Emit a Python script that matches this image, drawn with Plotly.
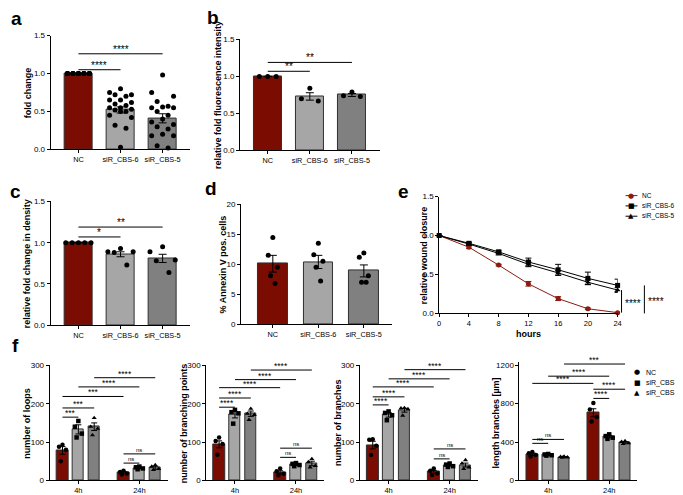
import plotly.graph_objects as go

FONT = "Liberation Sans, Arial, sans-serif"
W, H = 683, 495

groups = ["NC", "siR_CBS-6", "siR_CBS-5"]
bar_colors = ["#7a0c02", "#a6a6a6", "#808080"]

# a  fold change
a_mean = [1.0, 0.52, 0.41]
a_sem = [0.0, 0.04, 0.06]
a_pts = [
    [1.0] * 20,
    [0.80, 0.75, 0.72, 0.72, 0.70, 0.65, 0.65, 0.62, 0.60, 0.58, 0.55,
     0.55, 0.53, 0.52, 0.50, 0.50, 0.45, 0.42, 0.32, 0.28, 0.03],
    [0.98, 0.75, 0.70, 0.63, 0.57, 0.56, 0.55, 0.55, 0.50, 0.45, 0.40,
     0.36, 0.33, 0.30, 0.27, 0.20, 0.18, 0.18, 0.05, 0.02],
]
a_sig = [("****", 0, 1, 1.05), ("****", 0, 2, 1.26)]

# b  relative fold fluorescence intensity
b_mean = [1.0, 0.73, 0.75]
b_sem = [0.0, 0.05, 0.02]
b_pts = [[1.0, 1.0, 1.0], [0.84, 0.70, 0.67], [0.79, 0.74, 0.73]]
b_sig = [("**", 0, 1, 1.07), ("**", 0, 2, 1.19)]

# c  relative fold change in density
c_mean = [1.0, 0.86, 0.81]
c_sem = [0.0, 0.03, 0.05]
c_pts = [[1.0] * 5, [0.93, 0.89, 0.89, 0.88, 0.73], [0.95, 0.89, 0.79, 0.78, 0.64]]
c_sig = [("*", 0, 1, 1.07), ("**", 0, 2, 1.19)]

# d  % Annexin V pos. cells
d_mean = [10.1, 10.4, 8.9]
d_sem = [1.4, 1.1, 1.0]
d_pts = [[14.5, 11.5, 9.5, 8.1, 6.8], [13.5, 11.6, 10.5, 9.5, 7.2], [11.9, 11.2, 8.1, 7.0, 7.0]]

# e  wound closure
hours = [0, 4, 8, 12, 16, 20, 24]
e_nc = [1.0, 0.85, 0.62, 0.38, 0.19, 0.06, 0.01]
e_nc_err = [0.0, 0.015, 0.01, 0.03, 0.025, 0.01, 0.005]
e_cbs6 = [1.0, 0.90, 0.79, 0.66, 0.56, 0.45, 0.36]
e_cbs6_err = [0.0, 0.015, 0.02, 0.05, 0.07, 0.08, 0.08]
e_cbs5 = [1.0, 0.89, 0.77, 0.63, 0.52, 0.40, 0.30]
e_cbs5_err = [0.0, 0.015, 0.02, 0.03, 0.03, 0.03, 0.03]
e_sig = [("****", 0.01, 0.30), ("****", 0.0, 0.36)]

# f  tube formation, [4h, 24h] x [NC, siR_CBS-6, siR_CBS-5]
times = ["4h", "24h"]
loops_mean = [[78, 133, 140], [20, 32, 33]]
loops_sem = [[10, 12, 10], [3, 2, 4]]
loops_pts = [[[93, 88, 80, 50], [155, 140, 122, 112], [163, 140, 135, 118]],
             [[25, 22, 18, 15], [36, 34, 31, 29], [40, 36, 30, 27]]]
loops_sig = [("***", (0, 0), (0, 1), 165), ("***", (0, 0), (0, 2), 189),
             ("***", (0, 0), (1, 0), 219), ("****", (0, 1), (1, 1), 244),
             ("****", (0, 2), (1, 2), 268), ("ns", (1, 0), (1, 1), 45),
             ("ns", (1, 0), (1, 2), 69)]

bp_mean = [[94, 171, 174], [21, 41, 44]]
bp_sem = [[9, 8, 7], [4, 2, 6]]
bp_pts = [[[112, 103, 95, 67], [184, 178, 175, 148], [187, 174, 171, 158]],
          [[31, 24, 17, 13], [45, 43, 40, 37], [56, 48, 38, 34]]]
bp_sig = [("****", (0, 0), (0, 1), 191), ("****", (0, 0), (0, 2), 215),
          ("****", (0, 0), (1, 0), 242), ("****", (0, 1), (1, 1), 263),
          ("****", (0, 2), (1, 2), 288), ("ns", (1, 0), (1, 1), 60),
          ("ns", (1, 0), (1, 2), 84)]

br_mean = [[92, 171, 183], [22, 39, 40]]
br_sem = [[10, 6, 5], [4, 2, 5]]
br_pts = [[[107, 106, 90, 66], [180, 176, 170, 157], [189, 188, 186, 169]],
          [[31, 25, 18, 14], [44, 41, 37, 35], [53, 44, 34, 30]]]
br_sig = [("****", (0, 0), (0, 1), 197), ("****", (0, 0), (0, 2), 218),
          ("****", (0, 0), (1, 0), 244), ("****", (0, 1), (1, 1), 265),
          ("****", (0, 2), (1, 2), 289), ("ns", (1, 0), (1, 1), 56),
          ("ns", (1, 0), (1, 2), 82)]

len_mean = [[273, 267, 243], [705, 455, 395]]
len_sem = [[12, 4, 3], [42, 12, 8]]
len_pts = [[[295, 282, 265, 250], [275, 270, 262, 258], [250, 245, 240, 238]],
           [[808, 738, 660, 615], [480, 462, 445, 433], [410, 402, 388, 380]]]
len_sig = [("ns", (0, 0), (0, 1), 386), ("ns", (0, 0), (0, 2), 427),
           ("****", (0, 0), (1, 0), 1012), ("****", (0, 1), (1, 1), 1087),
           ("***", (0, 2), (1, 2), 1214), ("****", (1, 0), (1, 1), 855),
           ("****", (1, 0), (1, 2), 951)]

fig = go.Figure()


def xr(i):
    return "x" if i == 1 else f"x{i}"


def yr(i):
    return "y" if i == 1 else f"y{i}"


def spread(n, w):
    pat = [0, -1, 1, -0.5, 0.5]
    return [pat[j % 5] * w for j in range(n)]


axis_common = dict(showgrid=False, zeroline=False, showline=True, linecolor="black",
                   linewidth=1, ticks="outside", ticklen=3, tickwidth=1, tickcolor="black")


def add_axes(i, box, xrange, yrange, ytickvals, xtickvals, xticktext, yfmt=None, xfs=7.3):
    left, top, right, bottom = box
    xkey = "xaxis" if i == 1 else f"xaxis{i}"
    ykey = "yaxis" if i == 1 else f"yaxis{i}"
    fig.update_layout(**{
        xkey: dict(domain=[left / W, right / W], range=xrange, anchor=yr(i),
                   tickvals=xtickvals, ticktext=xticktext, tickangle=0,
                   tickfont=dict(size=xfs, color="black", family=FONT), **axis_common),
        ykey: dict(domain=[1 - bottom / H, 1 - top / H], range=yrange, anchor=xr(i),
                   tickvals=ytickvals, tickformat=yfmt,
                   tickfont=dict(size=8, color="black", family=FONT), **axis_common),
    })


def paper_text(text, px, py, size, xanchor="center", color="black", family=FONT, angle=0):
    fig.add_annotation(xref="paper", yref="paper", x=px / W, y=1 - py / H, text=text,
                       textangle=angle, showarrow=False, xanchor=xanchor, yanchor="middle",
                       font=dict(size=size, family=family, color=color))


def ytitle(text, px, box, size=9):
    paper_text(f"<b>{text}</b>", px, (box[1] + box[3]) / 2, size, angle=-90)


def letter(text, px, py):
    paper_text(f"<b>{text}</b>", px, py, 19)


def sig_line(i, xa, xb, y, label, size=10):
    fig.add_shape(type="line", xref=xr(i), yref=yr(i), x0=xa, x1=xb, y0=y, y1=y,
                  line=dict(color="black", width=1))
    small = label == "ns"
    fig.add_annotation(xref=xr(i), yref=yr(i), x=(xa + xb) / 2, y=y, text=label,
                       showarrow=False, xanchor="center", yanchor="bottom",
                       yshift=-1 if small else -3,
                       font=dict(size=6 if small else size, family=FONT, color="black"))


def bar_panel(i, box, mean, sem, pts, sig, yrange, yticks, yfmt, xrange, width, w):
    xs = [0, 1, 2]
    fig.add_trace(go.Bar(x=xs, y=mean, width=width, xaxis=xr(i), yaxis=yr(i),
                         marker=dict(color=bar_colors, line=dict(color="#303030", width=1)),
                         error_y=dict(type="data", array=sem, color="black", thickness=1, width=4)))
    for k, vals in enumerate(pts):
        offs = spread(len(vals), w)
        fig.add_trace(go.Scatter(x=[k + o for o in offs], y=vals, mode="markers",
                                 xaxis=xr(i), yaxis=yr(i), cliponaxis=False,
                                 marker=dict(color="black", size=5)))
    for label, ka, kb, y in sig:
        sig_line(i, ka, kb, y, label)
    add_axes(i, box, xrange, yrange, yticks, xs, groups, yfmt)


# panels a-d
box_a = (41, 24, 182, 140)
box_b = (232, 28, 373, 141)
box_c = (41, 193, 182, 319)
box_d = (233, 196, 385, 318)
bar_panel(1, box_a, a_mean, a_sem, a_pts, a_sig, [0, 1.5], [0, 0.5, 1.0, 1.5], ".1f",
          [-0.66, 2.66], 0.66, 0.26)
bar_panel(2, box_b, b_mean, b_sem, b_pts, b_sig, [0, 1.5], [0, 0.5, 1.0, 1.5], ".1f",
          [-0.66, 2.66], 0.66, 0.2)
bar_panel(3, box_c, c_mean, c_sem, c_pts, c_sig, [0, 1.5], [0, 0.5, 1.0, 1.5], ".1f",
          [-0.66, 2.66], 0.66, 0.3)
bar_panel(4, box_d, d_mean, d_sem, d_pts, [], [0, 20], [0, 5, 10, 15, 20], None,
          [-0.70, 2.61], 0.65, 0.1)

ytitle("fold change", 18, box_a)
ytitle("relative fold fluorescence intensity", 210, box_b)
ytitle("relative fold change in density", 18, box_c)
ytitle("% Annexin V pos. cells", 215, box_d)

# panel e
box_e = (433, 188, 613, 307)
e_series = [(e_nc, e_nc_err, "#8b1a10", "circle"),
            (e_cbs6, e_cbs6_err, "black", "square"),
            (e_cbs5, e_cbs5_err, "black", "triangle-up")]
for vals, err, col, sym in e_series:
    fig.add_trace(go.Scatter(x=hours, y=vals, mode="lines+markers", xaxis="x5", yaxis="y5",
                             cliponaxis=False, line=dict(color=col, width=1),
                             marker=dict(color=col, size=5, symbol=sym),
                             error_y=dict(type="data", array=err, color=col, thickness=1, width=3)))
add_axes(5, box_e, [0, 24], [0, 1.5], [0, 0.5, 1.0, 1.5], hours, [str(h) for h in hours], ".1f", 7.5)
fig.update_layout(xaxis5=dict(title=dict(text="<b>hours</b>", standoff=3,
                                         font=dict(size=9, family=FONT, color="black"))))
ytitle("relative wound closure", 418, box_e)
for j, (label, lo, hi) in enumerate(e_sig):
    xd = 1.022 + j * 0.128
    fig.add_shape(type="line", xref="x5 domain", yref="y5 domain", x0=xd, x1=xd,
                  y0=lo / 1.5, y1=hi / 1.5, line=dict(color="black", width=1))
    fig.add_annotation(xref="x5 domain", yref="y5 domain", x=xd + 0.01, y=(lo + hi) / 3.0,
                       text=label, showarrow=False, xanchor="left", yanchor="middle", yshift=-2,
                       font=dict(size=10, family=FONT, color="black"))

# legend of e
e_leg = [("●", "#8b1a10", groups[0]), ("■", "black", groups[1]), ("▲", "black", groups[2])]
for j, (sym, col, name) in enumerate(e_leg):
    py = 187 + j * 10.5
    fig.add_shape(type="line", xref="paper", yref="paper", x0=621 / W, x1=633 / W,
                  y0=1 - py / H, y1=1 - py / H, line=dict(color=col, width=1))
    paper_text(sym, 627, py, 7, color=col, family="DejaVu Sans")
    paper_text(name, 636, py, 6.5, xanchor="left")

# panels f
fy0, fy1 = 360, 477
f_panels = [
    (6, (40, fy0, 159, fy1), loops_mean, loops_sem, loops_pts, loops_sig, [0, 300],
     [0, 100, 200, 300], "number of loops", 17),
    (7, (198, fy0, 317, fy1), bp_mean, bp_sem, bp_pts, bp_sig, [0, 300],
     [0, 100, 200, 300], "number of branching points", 175),
    (8, (353, fy0, 472, fy1), br_mean, br_sem, br_pts, br_sig, [0, 300],
     [0, 100, 200, 300], "number of branches", 331),
    (9, (514, fy0 - 4, 633, fy1), len_mean, len_sem, len_pts, len_sig, [0, 1240],
     [0, 400, 800, 1200], "length branches [µm]", 490),
]
gap = 3.85
f_syms = ["circle", "square", "triangle-up"]


def fpos(g, k):
    return g * gap + (k - 1)


for i, box, mean, sem, pts, sig, yrange, yticks, title, tx in f_panels:
    for g in range(2):
        fig.add_trace(go.Bar(x=[fpos(g, k) for k in range(3)], y=mean[g], width=0.72,
                             xaxis=xr(i), yaxis=yr(i),
                             marker=dict(color=bar_colors, line=dict(color="#303030", width=1)),
                             error_y=dict(type="data", array=sem[g], color="black",
                                          thickness=1, width=3)))
        for k in range(3):
            vals = pts[g][k]
            offs = spread(len(vals), 0.22)
            fig.add_trace(go.Scatter(x=[fpos(g, k) + o for o in offs], y=vals, mode="markers",
                                     xaxis=xr(i), yaxis=yr(i), cliponaxis=False,
                                     marker=dict(color="black", size=4.5, symbol=f_syms[k])))
    for label, (ga, ka), (gb, kb), y in sig:
        sig_line(i, fpos(ga, ka), fpos(gb, kb), y, label, 8.5)
    add_axes(i, box, [-1.81, 5.63], yrange, yticks, [0, gap], times, None, 7.5)
    ytitle(title, tx, (box[0], fy0, box[2], fy1))

# legend of f
f_leg = [("●", groups[0]), ("■", groups[1]), ("▲", groups[2])]
for j, (sym, name) in enumerate(f_leg):
    py = 367 + j * 10.5
    paper_text(sym, 633, py, 7, family="DejaVu Sans")
    paper_text(name, 640, py, 7, xanchor="left")

letter("a", 7, 7)
letter("b", 205, 6)
letter("c", 6, 183)
letter("d", 203, 180)
letter("e", 397, 183)
letter("f", 6, 340)

fig.update_layout(width=W, height=H, margin=dict(l=0, r=0, t=0, b=0),
                  paper_bgcolor="white", plot_bgcolor="white", showlegend=False,
                  bargap=0, font=dict(family=FONT, color="black"))

fig.write_html("out.html")
